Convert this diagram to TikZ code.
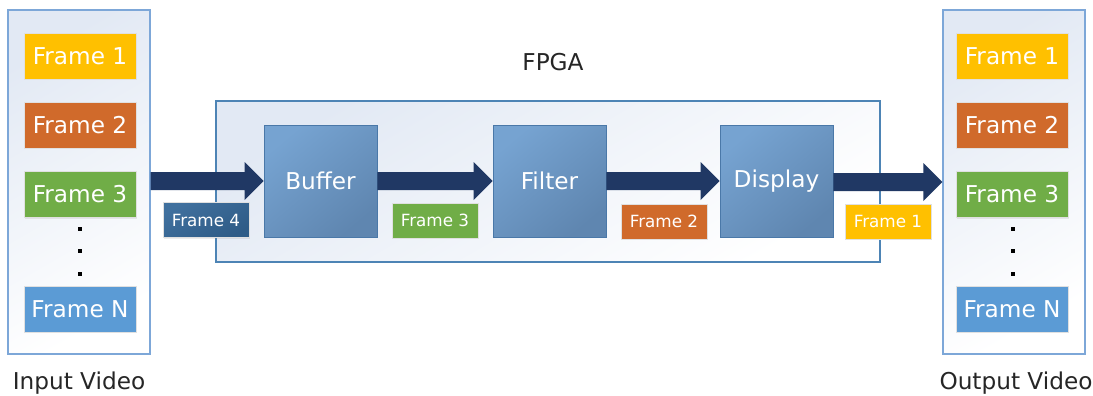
\documentclass[tikz,border=0pt]{standalone}
\usepackage{fontspec}
\setmainfont{DejaVu Sans}
\usetikzlibrary{shadows,calc}
\definecolor{fyellow}{HTML}{FFC000}
\definecolor{forange}{HTML}{D06A2B}
\definecolor{fgreen}{HTML}{70AD47}
\definecolor{fblue}{HTML}{5B9BD5}
\definecolor{fnavy}{HTML}{203864}
\definecolor{fdark}{HTML}{2F5C87}
\definecolor{fdarklt}{HTML}{40709E}
\definecolor{blocklt}{HTML}{76A3D1}
\definecolor{blockdk}{HTML}{5F86B0}
\definecolor{blockedge}{HTML}{4A78A8}
\definecolor{panellt}{HTML}{E2E9F4}
\definecolor{panelmid}{HTML}{F5F7FB}
\definecolor{paneledge}{HTML}{7DA7D8}
\definecolor{txt}{HTML}{262626}
\tikzset{
  bigtext/.style={font=\fontsize{17.4}{20}\selectfont},
  smalltext/.style={font=\fontsize{12.6}{14}\selectfont},
  panel/.style={draw=paneledge, line width=0.8pt, shading=axis, top color=panellt, middle color=panelmid,
    bottom color=white, shading angle=30},
  framebox/.style={bigtext, text=white, minimum width=84pt, minimum height=34.5pt, inner sep=0pt,
    draw=black!12, line width=0.6pt, drop shadow={opacity=0.15, shadow xshift=0.8pt, shadow yshift=-0.8pt}},
  tagbox/.style={smalltext, text=white, minimum width=64.5pt, minimum height=26.25pt, inner sep=0pt,
    draw=black!12, line width=0.6pt, drop shadow={opacity=0.15, shadow xshift=0.8pt, shadow yshift=-0.8pt}},
  block/.style={bigtext, text=white, minimum width=84.75pt, minimum height=84pt, inner sep=0pt,
    draw=blockedge, line width=0.6pt, shading=axis, top color=blocklt, bottom color=blockdk, shading angle=40,
    drop shadow={opacity=0.15, shadow xshift=0.8pt, shadow yshift=-0.8pt}},
  caption/.style={bigtext, text=txt},
  dotmark/.style={fill=black, minimum size=3.2pt, inner sep=0pt},
}
% thick block arrow from the east side of one node to the west side of another
\newcommand{\fatarrow}[2]{%
  \fill[fnavy] let \p1=(#1.east), \p2=(#2.west) in
    (\x1,\y2+6.75pt) -- (\x2-14.25pt,\y2+6.75pt) -- (\x2-14.25pt,\y2+14.25pt) --
    (\x2,\y2) -- (\x2-14.25pt,\y2-14.25pt) -- (\x2-14.25pt,\y2-6.75pt) --
    (\x1,\y2-6.75pt) -- cycle;}
\begin{document}
\begin{tikzpicture}[x=0.75pt, y=-0.75pt]
\useasboundingbox (0,0) rectangle (1093,396);

% input video column
\node[panel, minimum width=106.5pt, minimum height=258pt, inner sep=0pt] (inp) at (79,182) {};
\node[framebox, fill=fyellow] (i1) at (80,56) {Frame 1};
\node[framebox, fill=forange] (i2) at (80,125) {Frame 2};
\node[framebox, fill=fgreen]  (i3) at (80,194.5) {Frame 3};
\node[framebox, fill=fblue]   (iN) at (80,309) {Frame N};
\node[dotmark] (id1) at (80,229) {};
\node[dotmark] (id2) at (80,251) {};
\node[dotmark] (id3) at (80,274) {};
\node[caption] (inlabel) at (79,383) {Input Video};

% output video column
\node[panel, minimum width=106.5pt, minimum height=258pt, inner sep=0pt] (outp) at (1014,182) {};
\node[framebox, fill=fyellow] (o1) at (1012,56) {Frame 1};
\node[framebox, fill=forange] (o2) at (1012,125) {Frame 2};
\node[framebox, fill=fgreen]  (o3) at (1012,194.5) {Frame 3};
\node[framebox, fill=fblue]   (oN) at (1012,309) {Frame N};
\node[dotmark] (od1) at (1013,229) {};
\node[dotmark] (od2) at (1013,251) {};
\node[dotmark] (od3) at (1013,274) {};
\node[caption] (outlabel) at (1016,383) {Output Video};

% FPGA pipeline
\node[panel, minimum width=498pt, minimum height=120.75pt, inner sep=0pt, draw=fblue!85!black] (fpga) at (548,181.5) {};
\node[caption] (fpgalabel) at (553,62) {FPGA};
\node[block] (buf)  at (320.5,181) {Buffer};
\node[block] (filt) at (549.5,181) {Filter};
\node[block] (disp) at (776.5,181) {Display};

\fatarrow{inp}{buf}
\fatarrow{buf}{filt}
\fatarrow{filt}{disp}
\fatarrow{disp}{outp}

% frames in flight between stages
\node[tagbox, shading=axis, top color=fdarklt, bottom color=fdark, shading angle=30] (t4) at (206,220) {Frame 4};
\node[tagbox, fill=fgreen]  (t3) at (435,220.5) {Frame 3};
\node[tagbox, fill=forange] (t2) at (664,221.5) {Frame 2};
\node[tagbox, fill=fyellow] (t1) at (888,221.5) {Frame 1};
\end{tikzpicture}
\end{document}
